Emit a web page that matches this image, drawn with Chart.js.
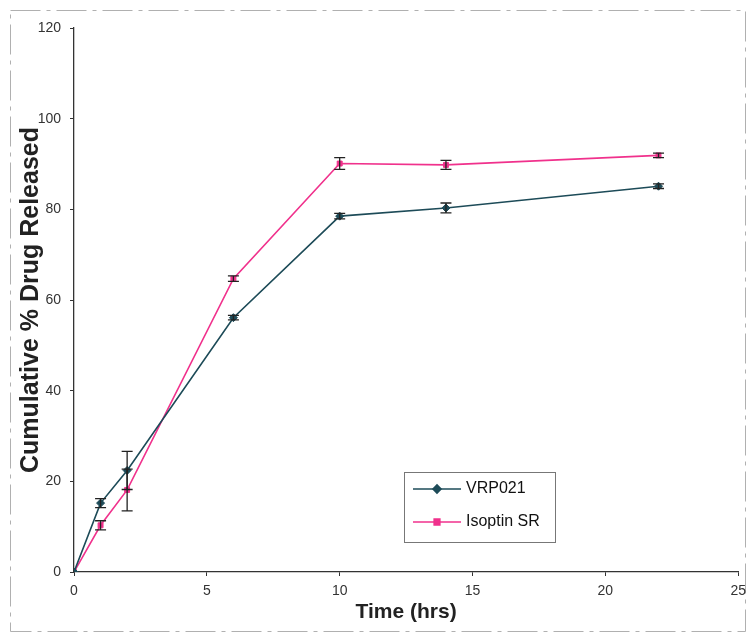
<!DOCTYPE html>
<html>
<head>
<meta charset="utf-8">
<script src="https://cdn.jsdelivr.net/npm/chart.js@4.4.1/dist/chart.umd.min.js"></script>
<style>
  html, body { margin: 0; padding: 0; background: #fff; }
  #wrap { width: 753px; height: 637px; position: relative; }
</style>
</head>
<body>
<div id="wrap"><canvas id="c"></canvas></div>
<script>
// ---- Data ----
const timeHrs = [0, 1, 2, 6, 10, 14, 22];
const vrp021 = [0, 15.2, 22.4, 56.1, 78.5, 80.3, 85.1];
const vrp021Err = [0, 1.0, 4.2, 0.5, 0.6, 1.1, 0.5];
const isoptin = [0, 10.3, 18.1, 64.7, 90.1, 89.8, 91.9];
const isoptinErr = [0, 1.0, 4.6, 0.6, 1.3, 1.0, 0.5];
const xTicks = [0, 5, 10, 15, 20, 25];
const yTicks = [0, 20, 40, 60, 80, 100, 120];
const seriesNames = ['VRP021', 'Isoptin SR'];

const tealColor = '#1d4b58';
const pinkColor = '#f0318c';

function toXY(xs, ys) { return xs.map((x, i) => ({ x: x, y: ys[i] })); }

const errorBarPlugin = {
  id: 'errorBars',
  afterDatasetsDraw(chart) {
    const ctx = chart.ctx;
    const xs = chart.scales.x, ys = chart.scales.y;
    const errs = [vrp021Err, isoptinErr];
    const vals = [vrp021, isoptin];
    ctx.save();
    ctx.strokeStyle = '#222';
    ctx.lineWidth = 1.3;
    for (let d = 0; d < 2; d++) {
      timeHrs.forEach((t, i) => {
        const e = errs[d][i];
        if (!e) return;
        const px = xs.getPixelForValue(t);
        const top = ys.getPixelForValue(vals[d][i] + e);
        const bot = ys.getPixelForValue(vals[d][i] - e);
        ctx.beginPath();
        ctx.moveTo(px, top); ctx.lineTo(px, bot);
        ctx.moveTo(px - 5.5, top); ctx.lineTo(px + 5.5, top);
        ctx.moveTo(px - 5.5, bot); ctx.lineTo(px + 5.5, bot);
        ctx.stroke();
      });
    }
    ctx.restore();
  }
};

const frameLegendPlugin = {
  id: 'frameLegend',
  beforeDraw(chart) {
    const ctx = chart.ctx;
    ctx.save();
    ctx.fillStyle = '#fff';
    ctx.fillRect(0, 0, chart.width, chart.height);
    ctx.strokeStyle = '#b0b0b0';
    ctx.lineWidth = 1;
    ctx.setLineDash([30, 6, 4, 6]);
    ctx.strokeRect(10.5, 10.5, chart.width - 18, chart.height - 16);
    ctx.restore();
  },
  afterDraw(chart) {
    const ctx = chart.ctx;
    const a = chart.chartArea;
    const bx = a.left + 330, by = a.top + 444, bw = 151, bh = 70;
    ctx.save();
    ctx.strokeStyle = '#777';
    ctx.lineWidth = 1;
    ctx.strokeRect(bx + 0.5, by + 0.5, bw, bh);
    const colors = [tealColor, pinkColor];
    const styles = ['rectRot', 'rect'];
    seriesNames.forEach((name, i) => {
      const cy = by + 17 + i * 33;
      ctx.strokeStyle = colors[i];
      ctx.lineWidth = 1.6;
      ctx.beginPath();
      ctx.moveTo(bx + 9, cy); ctx.lineTo(bx + 57, cy);
      ctx.stroke();
      Chart.helpers.drawPoint(ctx, { pointStyle: styles[i], radius: 4, borderWidth: 1 }, bx + 33, cy);
      ctx.fillStyle = colors[i];
      ctx.fill();
      ctx.fillStyle = '#111';
      ctx.font = '16px "Liberation Sans", Arial, sans-serif';
      ctx.textBaseline = 'middle';
      ctx.fillText(name, bx + 62, cy);
    });
    ctx.restore();
  }
};

new Chart(document.getElementById('c'), {
  type: 'line',
  data: {
    datasets: [
      {
        label: seriesNames[0],
        data: toXY(timeHrs, vrp021),
        borderColor: tealColor,
        backgroundColor: tealColor,
        borderWidth: 1.6,
        pointStyle: 'rectRot',
        pointRadius: 4,
        pointBorderWidth: 1,
        tension: 0
      },
      {
        label: seriesNames[1],
        data: toXY(timeHrs, isoptin),
        borderColor: pinkColor,
        backgroundColor: pinkColor,
        borderWidth: 1.6,
        pointStyle: 'rect',
        pointRadius: 3.5,
        pointBorderWidth: 1,
        tension: 0
      }
    ]
  },
  options: {
    responsive: true,
    maintainAspectRatio: false,
    animation: false,
    layout: { padding: { left: 16, top: 28, right: 13, bottom: 12 } },
    plugins: { legend: { display: false }, tooltip: { enabled: false } },
    scales: {
      x: {
        type: 'linear',
        min: 0, max: 25,
        afterBuildTicks(s) { s.ticks = xTicks.map(v => ({ value: v })); },
        afterFit(s) { s.height = 53; },
        grid: { drawOnChartArea: false, tickLength: 4, color: '#333' },
        border: { color: '#333', width: 1.3 },
        ticks: {
          color: '#333', padding: 7,
          font: { family: '"Liberation Sans", Arial, sans-serif', size: 14 },
          callback: v => String(v)
        },
        title: {
          display: true, text: 'Time (hrs)', color: '#222',
          font: { family: '"Liberation Sans", Arial, sans-serif', size: 21, weight: 'bold' },
          padding: { top: 0, bottom: 0 }
        }
      },
      y: {
        type: 'linear',
        min: 0, max: 120,
        afterBuildTicks(s) { s.ticks = yTicks.map(v => ({ value: v })); },
        afterFit(s) { s.width = 58; },
        grid: { drawOnChartArea: false, tickLength: 4, color: '#333' },
        border: { color: '#333', width: 1.3 },
        ticks: {
          color: '#333', padding: 9,
          font: { family: '"Liberation Sans", Arial, sans-serif', size: 14 },
          callback: v => String(v)
        },
        title: {
          display: true, text: 'Cumulative % Drug Released', color: '#222',
          font: { family: '"Liberation Sans", Arial, sans-serif', size: 25, weight: 'bold' },
          padding: { top: 0, bottom: 0 }
        }
      }
    }
  },
  plugins: [frameLegendPlugin, errorBarPlugin]
});
</script>
</body>
</html>
